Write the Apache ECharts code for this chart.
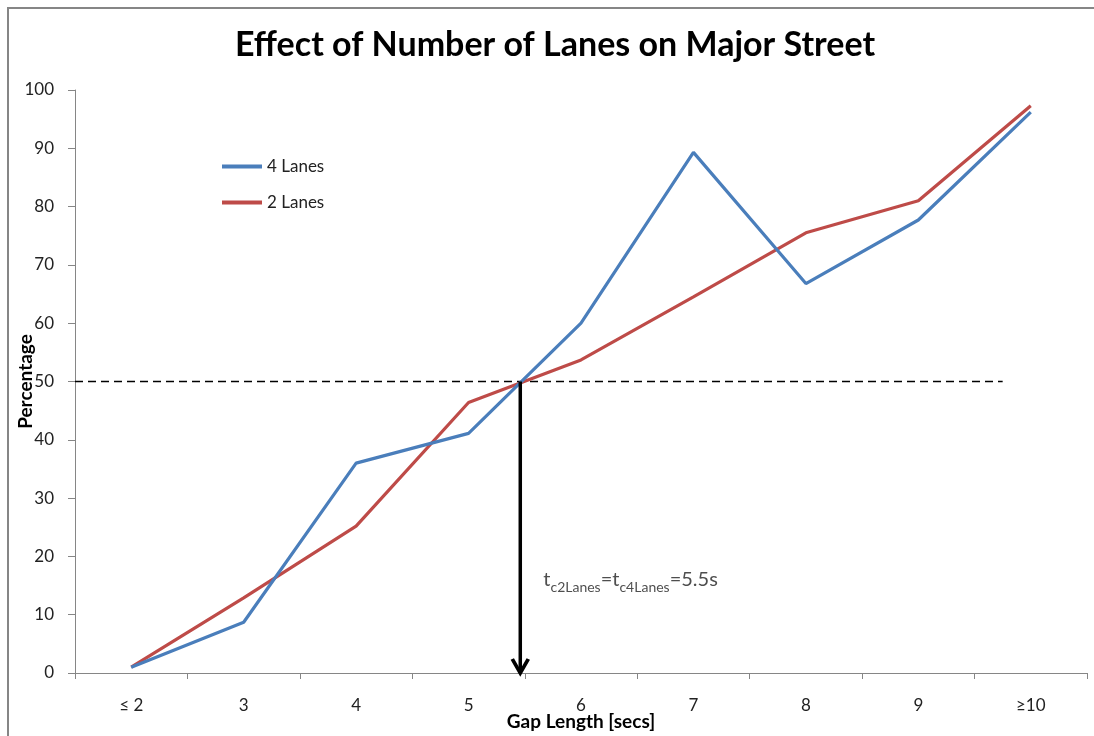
<!DOCTYPE html>
<html>
<head>
<meta charset="utf-8">
<script src="https://cdn.jsdelivr.net/npm/echarts@6/dist/echarts.min.js"></script>
<style>
html,body{margin:0;padding:0;background:#fff;}
#chart{width:1094px;height:736px;}
</style>
</head>
<body>
<div id="chart"></div>
<script>
// ---- data ----
const categories = ['≤ 2', '3', '4', '5', '6', '7', '8', '9', '≥10'];
const lanes4 = [1.0, 8.7, 36.0, 41.1, 60.0, 89.3, 66.8, 77.7, 96.2];
const lanes2 = [1.0, 12.9, 25.2, 46.4, 53.7, 64.5, 75.5, 81.0, 97.3];
const gapSeconds = [2, 3, 4, 5, 6, 7, 8, 9, 10];   // seconds at each category centre
const yMin = 0, yMax = 100, yStep = 10;
const thresholdPct = 50;
const dashedLineSpan = [1.5, 9.75];                 // seconds
const criticalGap = 5.46;                            // seconds (arrow position)
const annotationY = 16;                              // percent

const FONT = 'Lato';
const chart = echarts.init(document.getElementById('chart'), null, {renderer: 'canvas'});

const option = {
  backgroundColor: '#fff',
  animation: false,
  title: {
    text: 'Effect of Number of Lanes on Major Street',
    left: 550, top: 23, textAlign: 'center',
    textStyle: {fontFamily: FONT, fontSize: 34, fontWeight: 'bold', color: '#000'}
  },
  legend: {
    orient: 'vertical', left: 222, top: 158, padding: 0,
    data: ['4 Lanes', '2 Lanes'],
    icon: 'rect', itemWidth: 40, itemHeight: 4, itemGap: 19,
    textStyle: {fontFamily: FONT, fontSize: 17, color: '#222'}
  },
  grid: {left: 75, right: 7, top: 90, bottom: 63, containLabel: false, outerBoundsMode: 'none'},
  xAxis: [{
    type: 'category', data: categories, boundaryGap: true,
    axisLine: {show: true, lineStyle: {color: '#868686', width: 1}},
    axisTick: {show: true, length: 6, lineStyle: {color: '#868686'}},
    axisLabel: {fontFamily: FONT, fontSize: 17, color: '#222', margin: 24, interval: 0},
    splitLine: {show: false},
    name: 'Gap Length [secs]', nameLocation: 'middle', nameGap: 39, nameMoveOverlap: false,
    nameTextStyle: {fontFamily: FONT, fontSize: 19, fontWeight: 'bold', color: '#000'}
  }, {
    type: 'value', show: false,
    min: gapSeconds[0] - 0.5, max: gapSeconds[gapSeconds.length - 1] + 0.5
  }],
  yAxis: {
    type: 'value', min: yMin, max: yMax, interval: yStep,
    axisLine: {show: true, lineStyle: {color: '#868686', width: 1}},
    axisTick: {show: true, length: 7, lineStyle: {color: '#868686'}},
    axisLabel: {fontFamily: FONT, fontSize: 17, color: '#222', margin: 21},
    splitLine: {show: false},
    name: 'Percentage', nameLocation: 'middle', nameGap: 40, nameRotate: 90, nameMoveOverlap: false,
    nameTextStyle: {fontFamily: FONT, fontSize: 19, fontWeight: 'bold', color: '#000'}
  },
  graphic: [{
    type: 'rect', silent: true, z: -10,
    shape: {x: 8, y: 8, width: 1200, height: 800},
    style: {fill: 'none', stroke: '#868686', lineWidth: 2}
  }],
  series: [
    {
      name: '4 Lanes', type: 'line', data: lanes4, symbol: 'none',
      lineStyle: {color: '#4A7EBB', width: 3.2}, itemStyle: {color: '#4A7EBB'}, z: 3
    },
    {
      name: '2 Lanes', type: 'line', data: lanes2, symbol: 'none',
      lineStyle: {color: '#BE4B48', width: 3.2}, itemStyle: {color: '#BE4B48'}, z: 2
    },
    {
      name: 'threshold', type: 'line', xAxisIndex: 1, symbol: 'none',
      data: [[dashedLineSpan[0], thresholdPct], [dashedLineSpan[1], thresholdPct]],
      lineStyle: {color: '#000', width: 1.5, type: [8, 5]}, z: 1
    },
    {
      name: 'arrow', type: 'line', xAxisIndex: 1, showSymbol: true,
      data: [
        {value: [criticalGap, thresholdPct], symbol: 'none'},
        {value: [criticalGap, yMin], symbol: 'path://M0,0L10,12L20,0',
         symbolSize: [16, 14], symbolOffset: [0, -7],
         itemStyle: {color: 'rgba(0,0,0,0)', borderColor: '#000', borderWidth: 3.5}}
      ],
      lineStyle: {color: '#000', width: 3.5}, z: 4
    },
    {
      name: 'annotation', type: 'scatter', xAxisIndex: 1, symbolSize: 0,
      data: [[criticalGap, annotationY]],
      label: {
        show: true, position: 'right', distance: 23,
        formatter: '{m|t}{s|c2Lanes}{m|=t}{s|c4Lanes}{m|=5.5s}',
        rich: {
          m: {fontFamily: FONT, fontSize: 20, color: '#222', lineHeight: 20, verticalAlign: 'top'},
          s: {fontFamily: FONT, fontSize: 14, color: '#222', lineHeight: 14, padding: [11, 0, 0, 0], verticalAlign: 'top'}
        }
      }
    }
  ]
};
chart.setOption(option);
</script>
</body>
</html>
